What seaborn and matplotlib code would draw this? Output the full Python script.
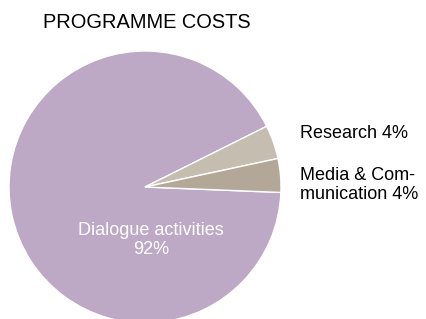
import matplotlib
matplotlib.use("Agg")
import matplotlib.pyplot as plt
import seaborn as sns

# data
categories = ["Dialogue activities", "Research", "Media & Com-\nmunication"]
shares = [92, 4, 4]
colors = ["#bda8c6", "#c5bdb0", "#b3a797"]

sns.set_theme(style="white")
plt.rcParams["font.family"] = ["Liberation Sans", "DejaVu Sans"]

fig = plt.figure(figsize=(4.26, 3.19), dpi=100)
fig.patch.set_facecolor("white")

# axes box chosen so the pie (radius 1) lands where the reference has it
ax = fig.add_axes([9 / 426, -4 / 319, 272 / 426, 272 / 319])
ax.pie(
    shares, colors=colors, startangle=-2.3, counterclock=False,
    wedgeprops=dict(edgecolor="white", linewidth=1.0),
)
ax.set_xlim(-1, 1); ax.set_ylim(-1, 1)
ax.set_aspect("equal")
ax.axis("off")

labels = [f"{c}\n{v}%" if i == 0 else f"{c} {v}%" for i, (c, v) in enumerate(zip(categories, shares))]
ax.text(0.044, -0.39, labels[0], color="white", ha="center", va="center",
        fontsize=13, linespacing=1.2)
ax.text(1.14, 0.39, labels[1], color="black", ha="left", va="center",
        fontsize=13, clip_on=False)
ax.text(1.14, 0.015, labels[2], color="black", ha="left", va="center",
        fontsize=13, linespacing=1.1, clip_on=False)

fig.text(43 / 426, 1 - 22.5 / 319, "PROGRAMME COSTS", ha="left", va="center",
         fontsize=14.4, color="black")

fig.savefig("out.png", dpi=100, facecolor="white")
